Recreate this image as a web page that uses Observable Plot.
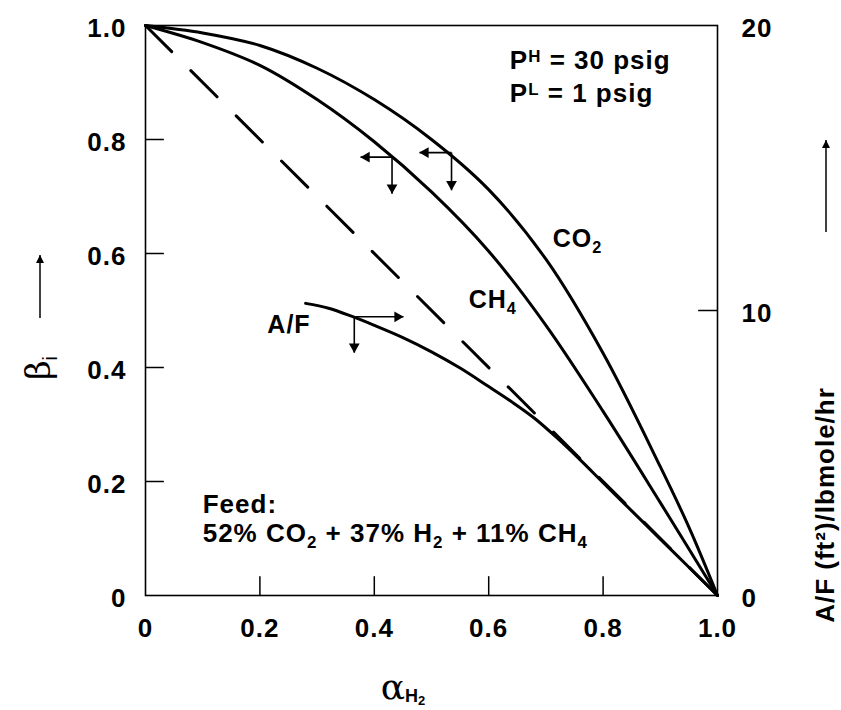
<!DOCTYPE html>
<html>
<head>
<meta charset="utf-8">
<script src="https://cdn.jsdelivr.net/npm/d3@7"></script>
<script src="https://cdn.jsdelivr.net/npm/@observablehq/plot@0.6"></script>
<style>
  html, body { margin: 0; padding: 0; background: #fff; }
  #chart svg { display: block; }
</style>
</head>
<body>
<div id="chart"></div>
<script>
// ---------- data ----------
// CO2 curve: beta_i vs alpha_H2
const co2Alpha = [0, 0.1, 0.2, 0.3, 0.4, 0.5, 0.6, 0.7, 0.8, 0.9, 0.95, 1];
const co2Beta  = [1, 0.987, 0.965, 0.925, 0.870, 0.800, 0.712, 0.590, 0.425, 0.226, 0.120, 0];
// CH4 curve
const ch4Alpha = [0, 0.1, 0.2, 0.3, 0.4, 0.5, 0.6, 0.7, 0.8, 0.9, 1];
const ch4Beta  = [1, 0.970, 0.930, 0.870, 0.796, 0.708, 0.604, 0.474, 0.323, 0.163, 0];
// A/F curve (right axis, ft2/lbmole/hr)
const afAlpha = [0.28, 0.32, 0.36, 0.40, 0.45, 0.50, 0.55, 0.60, 0.64, 0.68, 0.72, 0.76, 0.80, 0.85, 0.90, 0.95, 1];
const afValue = [10.25, 10.08, 9.80, 9.48, 9.05, 8.55, 7.98, 7.33, 6.80, 6.22, 5.52, 4.76, 3.96, 2.97, 1.98, 0.99, 0];
// dashed reference line
const diagAlpha = [0, 1];
const diagBeta  = [1, 0];

// axis ticks
const xTicks = [0, 0.2, 0.4, 0.6, 0.8, 1.0];
const xTickLabels = ["0", "0.2", "0.4", "0.6", "0.8", "1.0"];
const yTicks = [0, 0.2, 0.4, 0.6, 0.8, 1.0];
const yTickLabels = ["0", "0.2", "0.4", "0.6", "0.8", "1.0"];
const afTicks = [0, 10, 20];
const afTickLabels = ["0", "10", "20"];
const afMax = 20;

// axis-direction markers on the curves (corner, horizontal arrow tip, vertical arrow tip)
const markerCurve  = ["CH4", "CO2", "A/F"];
const markerAlpha  = [0.431, 0.535, 0.365];
const markerBeta   = [0.769, 0.777, 0.489];
const markerHorizTo = [0.376, 0.479, 0.451];
const markerVertTo  = [0.705, 0.711, 0.426];

// in-plot labels
const curveLabelText  = ["CO_{2}", "CH_{4}", "A/F"];
const curveLabelAlpha = [0.712, 0.565, 0.213];
const curveLabelBeta  = [0.611, 0.504, 0.461];
const noteText  = ["P^{H} = 30 psig", "P^{L} = 1 psig", "Feed:", "52% CO_{2} + 37% H_{2} + 11% CH_{4}"];
const noteAlpha = [0.637, 0.637, 0.100, 0.100];
const noteBeta  = [0.923, 0.865, 0.144, 0.093];

// ---------- build tables ----------
const zipXY = (xs, ys) => xs.map((x, i) => ({a: x, b: ys[i]}));
const co2 = zipXY(co2Alpha, co2Beta);
const ch4 = zipXY(ch4Alpha, ch4Beta);
const af = afAlpha.map((a, i) => ({a, v: afValue[i]}));
const diag = zipXY(diagAlpha, diagBeta);
const markers = markerCurve.map((c, i) => ({c, a: markerAlpha[i], b: markerBeta[i], h: markerHorizTo[i], v: markerVertTo[i]}));
const curveLabels = curveLabelText.map((t, i) => ({t, a: curveLabelAlpha[i], b: curveLabelBeta[i]}));
const notes = noteText.map((t, i) => ({t, a: noteAlpha[i], b: noteBeta[i]}));

const innerTicksY = yTicks.filter(d => d > 0 && d < 1);
const innerTicksX = xTicks.filter(d => d > 0 && d < 1);
const innerTicksAF = afTicks.filter(d => d > 0 && d < afMax);
const tickLen = 0.033; // inward tick length in axis units
const FONT = "Liberation Sans, Arial, Helvetica, sans-serif";

const chart = Plot.plot({
  width: 841,
  height: 710,
  marginTop: 25,
  marginRight: 124,
  marginBottom: 115,
  marginLeft: 145,
  x: {domain: [0, 1]},
  y: {domain: [0, 1]},
  style: {fontFamily: FONT, background: "white", color: "black", overflow: "visible"},
  marks: [
    Plot.frame({stroke: "black", strokeWidth: 1.6}),
    // inward tick marks
    Plot.ruleY(innerTicksY, {x1: 0, x2: tickLen, stroke: "black", strokeWidth: 1.5}),
    Plot.ruleX(innerTicksX, {y1: 0, y2: tickLen, stroke: "black", strokeWidth: 1.5}),
    Plot.ruleY(innerTicksAF, {y: d => d / afMax, x1: 1 - tickLen, x2: 1, stroke: "black", strokeWidth: 1.5}),
    // axes labels
    Plot.axisX({anchor: "bottom", ticks: xTicks, tickFormat: d => xTickLabels[xTicks.indexOf(d)], tickSize: 0, tickPadding: 23, fontSize: 26, fontWeight: "bold", label: null}),
    Plot.axisY({anchor: "left", ticks: yTicks, tickFormat: d => yTickLabels[yTicks.indexOf(d)], tickSize: 0, tickPadding: 19, dy: 3, fontSize: 26, fontWeight: "bold", label: null}),
    Plot.axisY({anchor: "right", ticks: afTicks.map(d => d / afMax), tickFormat: d => afTickLabels[afTicks.indexOf(Math.round(d * afMax))], tickSize: 0, tickPadding: 24, dy: 3, fontSize: 26, fontWeight: "bold", label: null}),
    // curves
    Plot.line(diag, {x: "a", y: "b", stroke: "black", strokeWidth: 3, strokeDasharray: "37,27"}),
    Plot.line(co2, {x: "a", y: "b", stroke: "black", strokeWidth: 3, curve: "catmull-rom"}),
    Plot.line(ch4, {x: "a", y: "b", stroke: "black", strokeWidth: 3, curve: "catmull-rom"}),
    Plot.line(af, {x: "a", y: d => d.v / afMax, stroke: "black", strokeWidth: 3, curve: "catmull-rom"}),
    // axis direction markers
    Plot.link(markers, {x1: "a", y1: "b", x2: "h", y2: "b", stroke: "black", strokeWidth: 1.6}),
    Plot.link(markers, {x1: "a", y1: "b", x2: "a", y2: "v", stroke: "black", strokeWidth: 1.6}),
    Plot.dot(markers, {filter: d => d.h < d.a, x: "h", y: "b", symbol: "triangle", r: 4, rotate: -90, dx: 6, fill: "black", stroke: "none"}),
    Plot.dot(markers, {filter: d => d.h > d.a, x: "h", y: "b", symbol: "triangle", r: 4, rotate: 90, dx: -6, fill: "black", stroke: "none"}),
    Plot.dot(markers, {x: "a", y: "v", symbol: "triangle", r: 4, rotate: 180, dy: -6, fill: "black", stroke: "none"}),
    // labels
    Plot.text(curveLabels, {x: "a", y: "b", text: "t", textAnchor: "start", lineAnchor: "bottom", fontSize: 25, fontWeight: "bold", fill: "black"}),
    Plot.text(notes, {x: "a", y: "b", text: "t", textAnchor: "start", lineAnchor: "bottom", fontSize: 26, fontWeight: "bold", fill: "black"})
  ]
});

document.getElementById("chart").appendChild(chart);

// ---------- rich text: sub/superscripts ----------
const SVGNS = "http://www.w3.org/2000/svg";
const svg = d3.select(chart);
svg.selectAll("text").style("letter-spacing", "1px");
svg.selectAll("text").each(function () {
  const t = this.textContent;
  if (!/[_^]\{/.test(t)) return;
  const parts = t.split(/([_^]\{[^}]*\})/).filter(p => p !== "");
  while (this.firstChild) this.removeChild(this.firstChild);
  const scale = 0.65;
  let shift = 0; // in base em
  for (const p of parts) {
    const m = p.match(/^([_^])\{([^}]*)\}$/);
    const ts = document.createElementNS(SVGNS, "tspan");
    if (m) {
      const target = m[1] === "_" ? 0.22 : -0.30;
      ts.setAttribute("font-size", scale + "em");
      ts.setAttribute("dy", ((target - shift) / scale).toFixed(3) + "em");
      shift = target;
      ts.textContent = m[2];
    } else {
      if (shift !== 0) ts.setAttribute("dy", (-shift).toFixed(3) + "em");
      shift = 0;
      ts.textContent = p;
    }
    this.appendChild(ts);
  }
});

// ---------- axis titles ----------
const g = svg.append("g").attr("fill", "black");
// bottom: alpha_H2
const xt = g.append("text").attr("x", 403).attr("y", 699);
xt.append("tspan").attr("font-family", "DejaVu Serif, serif").attr("font-size", 36).text("α");
xt.append("tspan").attr("font-family", FONT).attr("font-weight", "bold").attr("font-size", 18).attr("dy", 3).text("H");
xt.append("tspan").attr("font-family", FONT).attr("font-weight", "bold").attr("font-size", 13).attr("dy", 3).text("2");
// left: beta_i with arrow
const yt = g.append("text").attr("transform", "translate(50,368) rotate(-90)");
yt.append("tspan").attr("font-family", "DejaVu Serif, serif").attr("font-size", 34).text("β");
yt.append("tspan").attr("font-family", FONT).attr("font-size", 20).attr("dy", 7).text("i");
// right: A/F label
g.append("text").attr("transform", "translate(834,505) rotate(-90)")
  .attr("font-family", FONT).attr("font-weight", "bold").attr("font-size", 26).style("letter-spacing", "1px")
  .text("A/F (ft²)/lbmole/hr");

// label arrows
const defs = svg.append("defs");
defs.append("marker").attr("id", "ah").attr("viewBox", "0 0 10 10").attr("refX", 10).attr("refY", 5)
  .attr("markerWidth", 10).attr("markerHeight", 8).attr("markerUnits", "userSpaceOnUse").attr("orient", "auto")
  .append("path").attr("d", "M0,0L10,5L0,10Z").attr("fill", "black");
g.append("line").attr("x1", 40).attr("y1", 318).attr("x2", 40).attr("y2", 255)
  .attr("stroke", "black").attr("stroke-width", 1.5).attr("marker-end", "url(#ah)");
g.append("line").attr("x1", 826).attr("y1", 232).attr("x2", 826).attr("y2", 140)
  .attr("stroke", "black").attr("stroke-width", 1.5).attr("marker-end", "url(#ah)");
</script>
</body>
</html>
